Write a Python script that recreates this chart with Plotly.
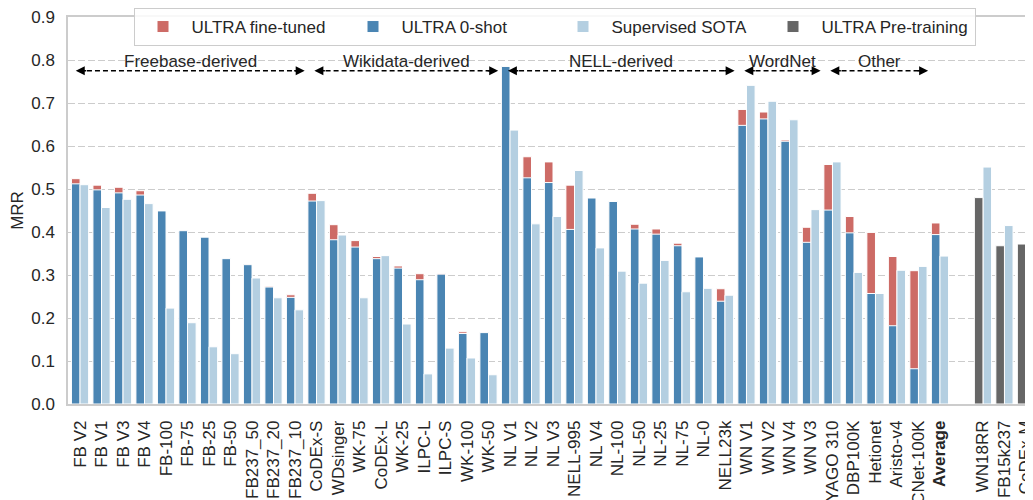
import plotly.graph_objects as go

# ---------------- data ----------------
labels = ["FB V2", "FB V1", "FB V3", "FB V4", "FB-100", "FB-75", "FB-25", "FB-50",
          "FB237_50", "FB237_20", "FB237_10", "CoDEx-S", "WDsinger", "WK-75", "CoDEx-L",
          "WK-25", "ILPC-L", "ILPC-S", "WK-100", "WK-50", "NL V1", "NL V2", "NL V3",
          "NELL-995", "NL V4", "NL-100", "NL-50", "NL-25", "NL-75", "NL-0", "NELL23k",
          "WN V1", "WN V2", "WN V4", "WN V3", "YAGO 310", "DBP100K", "Hetionet",
          "Aristo-v4", "CNet-100K", "Average"]
zero_shot = [0.512, 0.498, 0.491, 0.486, 0.449, 0.403, 0.388, 0.338, 0.324, 0.272, 0.248,
             0.472, 0.382, 0.365, 0.338, 0.316, 0.289, 0.302, 0.164, 0.166,
             0.785, 0.526, 0.515, 0.406, 0.479, 0.471, 0.407, 0.395, 0.368, 0.342, 0.239,
             0.648, 0.663, 0.611, 0.376, 0.451, 0.398, 0.257, 0.182, 0.082, 0.394]
fine_tuned = [0.524, 0.509, 0.504, 0.496, 0.444, 0.400, 0.383, 0.334, 0.325, 0.274, 0.254,
              0.490, 0.417, 0.380, 0.343, 0.321, 0.303, 0.303, 0.168, 0.140,
              0.757, 0.575, 0.563, 0.509, 0.469, 0.458, 0.418, 0.407, 0.374, 0.329, 0.268,
              0.685, 0.679, 0.614, 0.411, 0.557, 0.436, 0.399, 0.343, 0.310, 0.421]
sota = [0.510, 0.457, 0.476, 0.466, 0.223, 0.189, 0.133, 0.117, 0.293, 0.247, 0.219,
        0.473, 0.393, 0.247, 0.345, 0.186, 0.070, 0.130, 0.107, 0.068,
        0.637, 0.419, 0.436, 0.543, 0.363, 0.309, 0.281, 0.334, 0.261, 0.269, 0.253,
        0.741, 0.704, 0.661, 0.452, 0.563, 0.306, 0.257, 0.311, 0.320, 0.344]

pre_labels = ["WN18RR", "FB15k237", "CoDEx-M"]
pre_train = [0.480, 0.368, 0.372]
pre_sota = [0.551, 0.415, 0.352]

groups = ["Freebase-derived", "Wikidata-derived", "NELL-derived", "WordNet", "Other"]
group_first = [0, 11, 20, 31, 35]
group_last = [10, 19, 30, 34, 39]

y_ticks = [0.0, 0.1, 0.2, 0.3, 0.4, 0.5, 0.6, 0.7, 0.8, 0.9]

# ---------------- layout helpers ----------------
x_main = list(range(len(labels)))
x_pre = [len(labels) + 1 + i for i in range(len(pre_labels))]

C_FT = "#CD6B66"
C_ZS = "#4A85B3"
C_SOTA = "#B4CFE1"
C_PRE = "#666666"
TXT = "#262626"
FONT = "Liberation Sans, Arial, sans-serif"

edge = dict(color="white", width=1)
BW = 0.4

fig = go.Figure()
fig.add_trace(go.Bar(name="ULTRA fine-tuned", x=x_main, y=fine_tuned, offset=-BW, width=BW,
                     marker=dict(color=C_FT, line=edge)))
fig.add_trace(go.Bar(name="ULTRA 0-shot", x=x_main, y=zero_shot, offset=-BW, width=BW,
                     marker=dict(color=C_ZS, line=edge)))
fig.add_trace(go.Bar(name="Supervised SOTA", x=x_main + x_pre, y=sota + pre_sota, offset=0, width=BW,
                     marker=dict(color=C_SOTA, line=edge)))
fig.add_trace(go.Bar(name="ULTRA Pre-training", x=x_pre, y=pre_train, offset=-BW, width=BW,
                     marker=dict(color=C_PRE, line=edge)))

annotations = []
Y_ARR = 0.775
Y_TXT = 0.797
for name, a, b in zip(groups, group_first, group_last):
    s = a - 0.1 if a > 0 else a - 0.2
    e = b + 0.45
    fig.add_shape(type="line", x0=s + 0.15, x1=e - 0.15, y0=Y_ARR, y1=Y_ARR, xref="x", yref="y",
                  line=dict(color="black", width=1.5, dash="5px,3px"))
    for tip, ax in ((s, 12), (e, -12)):
        annotations.append(dict(x=tip, y=Y_ARR, xref="x", yref="y", ax=ax, ay=0,
                                showarrow=True, arrowhead=2, arrowsize=1.2, arrowwidth=1.5,
                                arrowcolor="black", text=""))
    annotations.append(dict(x=(s + e) / 2, y=Y_TXT, xref="x", yref="y", text=name,
                            showarrow=False, font=dict(size=17, color=TXT, family=FONT)))

ticktext = labels[:-1] + ["<b>Average</b>"] + pre_labels
fig.update_layout(
    width=1033, height=500,
    margin=dict(l=60, r=0, t=9, b=104, autoexpand=False),
    barmode="overlay",
    plot_bgcolor="white", paper_bgcolor="white",
    font=dict(family=FONT, color=TXT, size=16),
    annotations=annotations,
    legend=dict(orientation="h", x=0.5, xanchor="center", y=1.0233, yanchor="top",
                bordercolor="#cccccc", borderwidth=1, bgcolor="rgba(255,255,255,0.85)",
                font=dict(size=17, color=TXT), traceorder="normal",
                itemwidth=47, entrywidth=148, entrywidthmode="pixels"),
    xaxis=dict(range=[-0.56, 44.7], tickmode="array", tickvals=x_main + x_pre, ticktext=ticktext,
               tickangle=-90, showgrid=False, zeroline=False, showline=True, linecolor="#cccccc",
               linewidth=1.5, mirror=True, ticks="", automargin=False, ticklabeloverflow="allow",
               ticklabelstandoff=8, tickfont=dict(size=17, color=TXT)),
    yaxis=dict(range=[0, 0.9], tickmode="array", tickvals=y_ticks,
               ticktext=[f"{v:.1f}" for v in y_ticks], showgrid=True, gridcolor="#cccccc",
               griddash="7px,3px", gridwidth=1, zeroline=False, showline=True, linecolor="#cccccc",
               linewidth=1.5, mirror=True, ticks="", ticklabelstandoff=8, automargin=False,
               ticklabeloverflow="allow", tickfont=dict(size=17, color=TXT),
               title=dict(text="MRR", font=dict(size=17, color=TXT), standoff=8)),
)

fig.write_html("out.html")
